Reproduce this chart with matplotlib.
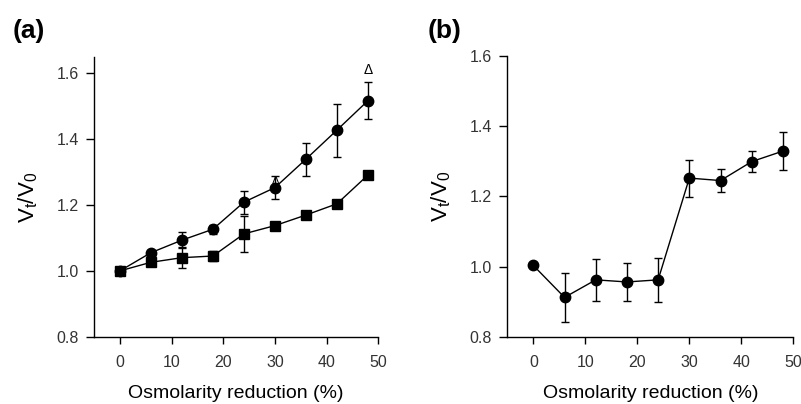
import matplotlib.pyplot as plt

plt.rcParams['font.family'] = ['Liberation Sans', 'DejaVu Sans']

# osmolarity reduction (%)
osm = [0, 6, 12, 18, 24, 30, 36, 42, 48]

# panel (a): circles and squares
a_circ = [1.0, 1.055, 1.093, 1.126, 1.208, 1.252, 1.338, 1.426, 1.515]
a_circ_err = [0.0, 0.008, 0.024, 0.014, 0.035, 0.035, 0.05, 0.08, 0.055]
a_sq = [1.0, 1.026, 1.04, 1.045, 1.112, 1.137, 1.169, 1.203, 1.29]
a_sq_err = [0.0, 0.006, 0.031, 0.015, 0.055, 0.005, 0.005, 0.005, 0.012]

# panel (b)
b_circ = [1.003, 0.912, 0.962, 0.956, 0.962, 1.252, 1.245, 1.299, 1.329]
b_circ_err = [0.0, 0.07, 0.06, 0.053, 0.062, 0.053, 0.033, 0.03, 0.053]

yticks = [0.8, 1.0, 1.2, 1.4, 1.6]
xticks = [0, 10, 20, 30, 40, 50]

fig = plt.figure(figsize=(8.01, 4.04), dpi=100)
ax1 = fig.add_axes([0.1174, 0.1658, 0.3549, 0.6931])
ax2 = fig.add_axes([0.6334, 0.1666, 0.3570, 0.6948])


def style(ax, ytop):
    ax.set_xlim(-5, 50)
    ax.set_ylim(0.8, ytop)
    ax.set_xticks(xticks)
    ax.set_yticks(yticks)
    ax.set_yticklabels(['%.1f' % v for v in yticks])
    for s in ['top', 'right']:
        ax.spines[s].set_visible(False)
    for s in ['left', 'bottom']:
        ax.spines[s].set_linewidth(1.0)
    ax.tick_params(direction='out', width=1, labelsize=11.5,
                   labelcolor='#333333')
    ax.tick_params(axis='x', length=5, pad=8)
    ax.tick_params(axis='y', length=6, pad=5)
    ax.set_xlabel('Osmolarity reduction (%)', fontsize=14, labelpad=11)
    ax.set_ylabel('$\\mathregular{V_t/V_0}$', fontsize=16, labelpad=12)


ax1.errorbar(osm, a_circ, yerr=a_circ_err, fmt='-o', color='black',
             ms=7.5, lw=1, elinewidth=1, capsize=3, capthick=1)
ax1.errorbar(osm, a_sq, yerr=a_sq_err, fmt='-s', color='black',
             ms=7, lw=1, elinewidth=1, capsize=3, capthick=1)
ax1.text(48, 1.588, '\u0394', ha='center', va='bottom', fontsize=10)
ax1.text(30, 1.258, '\u0394', ha='center', va='bottom', fontsize=8)
style(ax1, 1.647)

ax2.errorbar(osm, b_circ, yerr=b_circ_err, fmt='-o', color='black',
             ms=7.5, lw=1, elinewidth=1, capsize=3, capthick=1)
style(ax2, 1.6)

fig.text(0.016, 0.906, '(a)', fontsize=19, fontweight='bold', va='baseline')
fig.text(0.534, 0.906, '(b)', fontsize=19, fontweight='bold', va='baseline')

fig.savefig('out.png', dpi=100)
